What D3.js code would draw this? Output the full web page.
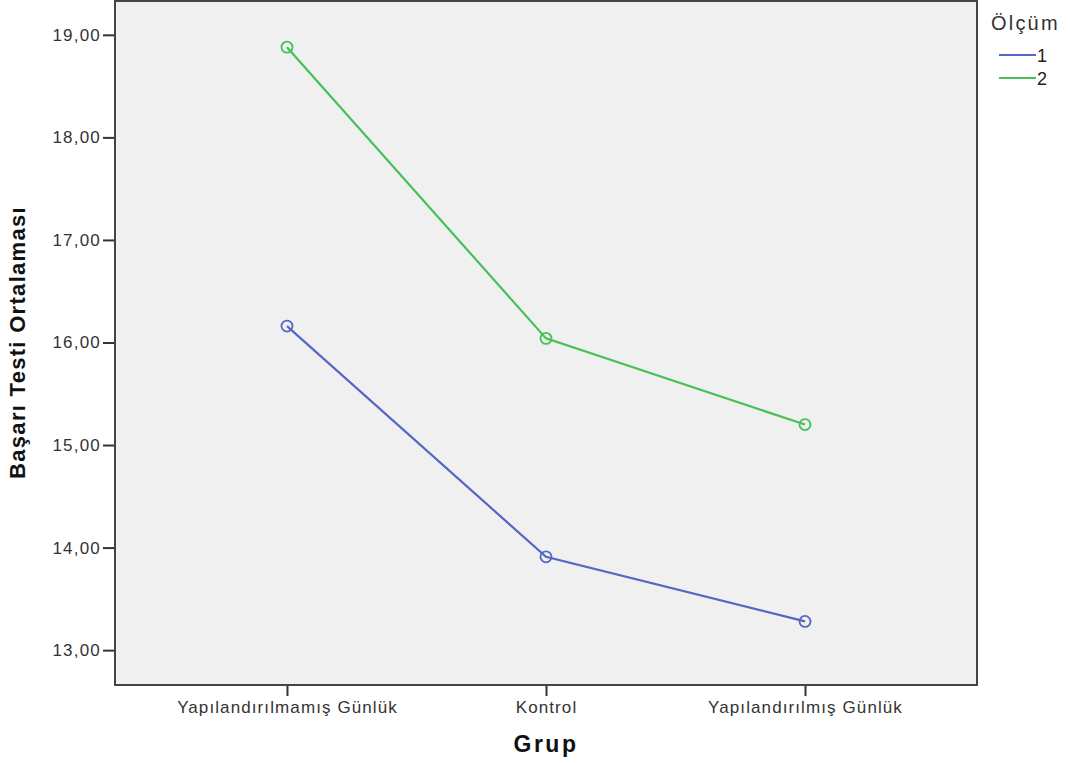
<!DOCTYPE html>
<html>
<head>
<meta charset="utf-8">
<script src="https://cdn.jsdelivr.net/npm/d3@7"></script>
<style>
  body { margin: 0; background: #fff; }
  svg { display: block; font-family: "Liberation Sans", Arial, sans-serif; }
</style>
</head>
<body>
<div id="chart"></div>
<script>
// data
const groups = ["Yapılandırılmamış Günlük", "Kontrol", "Yapılandırılmış Günlük"];
const olcum1 = [16.16, 13.91, 13.28];
const olcum2 = [18.88, 16.04, 15.20];
const yTicks = [13, 14, 15, 16, 17, 18, 19];
const seriesNames = ["1", "2"];
const seriesColors = ["#5566c4", "#45c156"];

const width = 1070, height = 763;
const margin = {left: 115, right: 93, top: 1, bottom: 78};

const svg = d3.select("#chart").append("svg")
    .attr("width", width)
    .attr("height", height);

const x = d3.scalePoint()
    .domain(groups)
    .range([margin.left, width - margin.right])
    .padding(0.664);

const y = d3.scaleLinear()
    .domain([12.66, 19.33])
    .range([height - margin.bottom, margin.top]);

// plot background
svg.append("rect")
    .attr("x", margin.left)
    .attr("y", margin.top)
    .attr("width", width - margin.left - margin.right)
    .attr("height", height - margin.top - margin.bottom)
    .attr("fill", "#f0f0f0");

const fmt = d => d.toFixed(2).replace(".", ",");

const yAxis = svg.append("g")
    .attr("transform", `translate(${margin.left},0)`)
    .call(d3.axisLeft(y).tickValues(yTicks).tickFormat(fmt).tickSize(12).tickPadding(2))
    .call(g => g.select(".domain").remove());
yAxis.selectAll(".tick line").attr("stroke", "#333").attr("stroke-width", 2);
yAxis.selectAll(".tick text").attr("fill", "#333")
    .style("font-size", "17px").style("letter-spacing", "1.2px");

const xAxis = svg.append("g")
    .attr("transform", `translate(0,${height - margin.bottom})`)
    .call(d3.axisBottom(x).tickSize(11).tickPadding(5))
    .call(g => g.select(".domain").remove());
xAxis.selectAll(".tick line").attr("stroke", "#333").attr("stroke-width", 2);
xAxis.selectAll(".tick text").attr("fill", "#333")
    .style("font-size", "17px").style("letter-spacing", "1.1px");

// frame
svg.append("rect")
    .attr("x", margin.left)
    .attr("y", margin.top)
    .attr("width", width - margin.left - margin.right)
    .attr("height", height - margin.top - margin.bottom)
    .attr("fill", "none")
    .attr("stroke", "#444")
    .attr("stroke-width", 2);

const line = d3.line()
    .x((d, i) => x(groups[i]))
    .y(d => y(d));

[olcum1, olcum2].forEach((vals, k) => {
  svg.append("path")
      .datum(vals)
      .attr("fill", "none")
      .attr("stroke", seriesColors[k])
      .attr("stroke-width", 2.2)
      .attr("d", line);
  svg.append("g")
    .selectAll("circle")
    .data(vals)
    .join("circle")
      .attr("cx", (d, i) => x(groups[i]))
      .attr("cy", d => y(d))
      .attr("r", 5.5)
      .attr("fill", "none")
      .attr("stroke", seriesColors[k])
      .attr("stroke-width", 1.8);
});

// axis titles
svg.append("text")
    .attr("x", (margin.left + width - margin.right) / 2)
    .attr("y", 752)
    .attr("text-anchor", "middle")
    .style("font-size", "23px")
    .style("font-weight", "bold")
    .style("letter-spacing", "2.5px")
    .attr("fill", "#111")
    .text("Grup");

svg.append("text")
    .attr("transform", `translate(25,${y(16)}) rotate(-90)`)
    .attr("text-anchor", "middle")
    .style("font-size", "22px")
    .style("font-weight", "bold")
    .style("letter-spacing", "1.3px")
    .attr("fill", "#111")
    .text("Başarı Testi Ortalaması");

// legend
const legend = svg.append("g").attr("transform", "translate(991,0)");
legend.append("text")
    .attr("x", 0)
    .attr("y", 30)
    .style("font-size", "20px")
    .style("letter-spacing", "2.2px")
    .attr("fill", "#333")
    .text("Ölçüm");
seriesNames.forEach((name, i) => {
  const ly = 55 + i * 23;
  legend.append("line")
      .attr("x1", 8).attr("x2", 45)
      .attr("y1", ly).attr("y2", ly)
      .attr("stroke", seriesColors[i])
      .attr("stroke-width", 2);
  legend.append("text")
      .attr("x", 46)
      .attr("y", ly + 7)
      .style("font-size", "18px")
      .attr("fill", "#222")
      .text(name);
});
</script>
</body>
</html>
